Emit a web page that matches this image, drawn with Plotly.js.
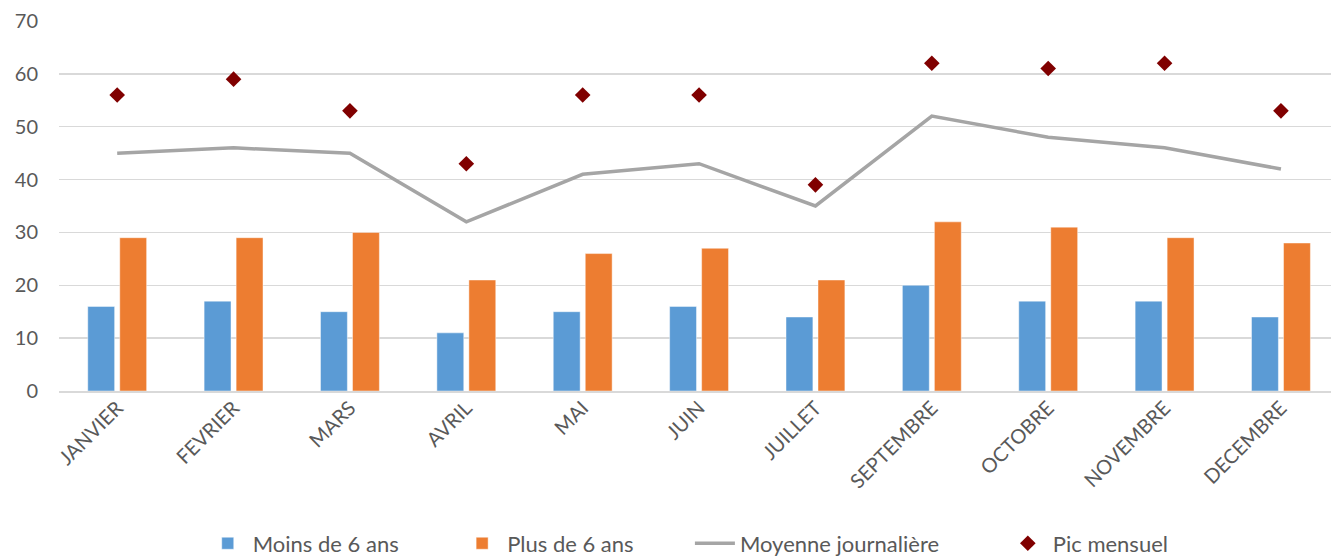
<!DOCTYPE html>
<html>
<head>
<meta charset="utf-8">
<script src="https://cdn.plot.ly/plotly-3.0.1.min.js"></script>
<style>html,body{margin:0;padding:0;background:#fff}#chart{width:1331px;height:559px}</style>
</head>
<body>
<div id="chart"></div>
<script>
const months = ["JANVIER","FEVRIER","MARS","AVRIL","MAI","JUIN","JUILLET","SEPTEMBRE","OCTOBRE","NOVEMBRE","DECEMBRE"];
const moins6 = [16,17,15,11,15,16,14,20,17,17,14];
const plus6 = [29,29,30,21,26,27,21,32,31,29,28];
const moyenne = [45,46,45,32,41,43,35,52,48,46,42];
const pic = [56,59,53,43,56,56,39,62,61,62,53];

const FONT = "Lato, 'Open Sans', sans-serif";
const traces = [
  {type:"bar", name:"Moins de 6 ans", x:months, y:moins6, legend:"legend",
   marker:{color:"#5b9bd5", line:{color:"rgba(255,255,255,0.45)", width:1}}},
  {type:"bar", name:"Plus de 6 ans", x:months, y:plus6, legend:"legend2",
   marker:{color:"#ed7d31", line:{color:"rgba(255,255,255,0.45)", width:1}}},
  {type:"scatter", mode:"lines", name:"Moyenne journalière", x:months, y:moyenne, legend:"legend3",
   line:{color:"#a5a5a5", width:3.5}},
  {type:"scatter", mode:"markers", name:"Pic mensuel", x:months, y:pic, legend:"legend4",
   marker:{symbol:"diamond", color:"#800000", size:12}}
];
function leg(x){
  return {orientation:"h", x:x, xanchor:"left", y:-0.412, yanchor:"middle",
          font:{size:22, color:"#595959"}, bgcolor:"rgba(0,0,0,0)", itemwidth:40};
}
const layout = {
  width:1331, height:559,
  margin:{l:59, r:0, t:21, b:168, pad:0, autoexpand:false},
  paper_bgcolor:"#fff", plot_bgcolor:"#fff",
  font:{family:FONT, color:"#595959", size:20},
  barmode:"group", bargap:0.45, bargroupgap:0.16,
  showlegend:true,
  legend:leg(0.113), legend2:leg(0.313), legend3:leg(0.496), legend4:leg(0.742),
  xaxis:{type:"category", range:[-0.5,10.43], tickangle:-45, showgrid:false,
         showline:true, linecolor:"#d9d9d9", linewidth:1.5, ticks:"", zeroline:false,
         ticklabelstandoff:-4, automargin:false,
         tickfont:{size:20, color:"#595959"}},
  yaxis:{range:[0,70], dtick:10, showgrid:true, gridcolor:"#d9d9d9", gridwidth:1.5,
         zeroline:false, showline:false, ticks:"", ticklabelstandoff:20, automargin:false,
         tickfont:{size:20, color:"#595959"}}
};
Plotly.newPlot("chart", traces, layout, {displayModeBar:false, staticPlot:true});
</script>
</body>
</html>
